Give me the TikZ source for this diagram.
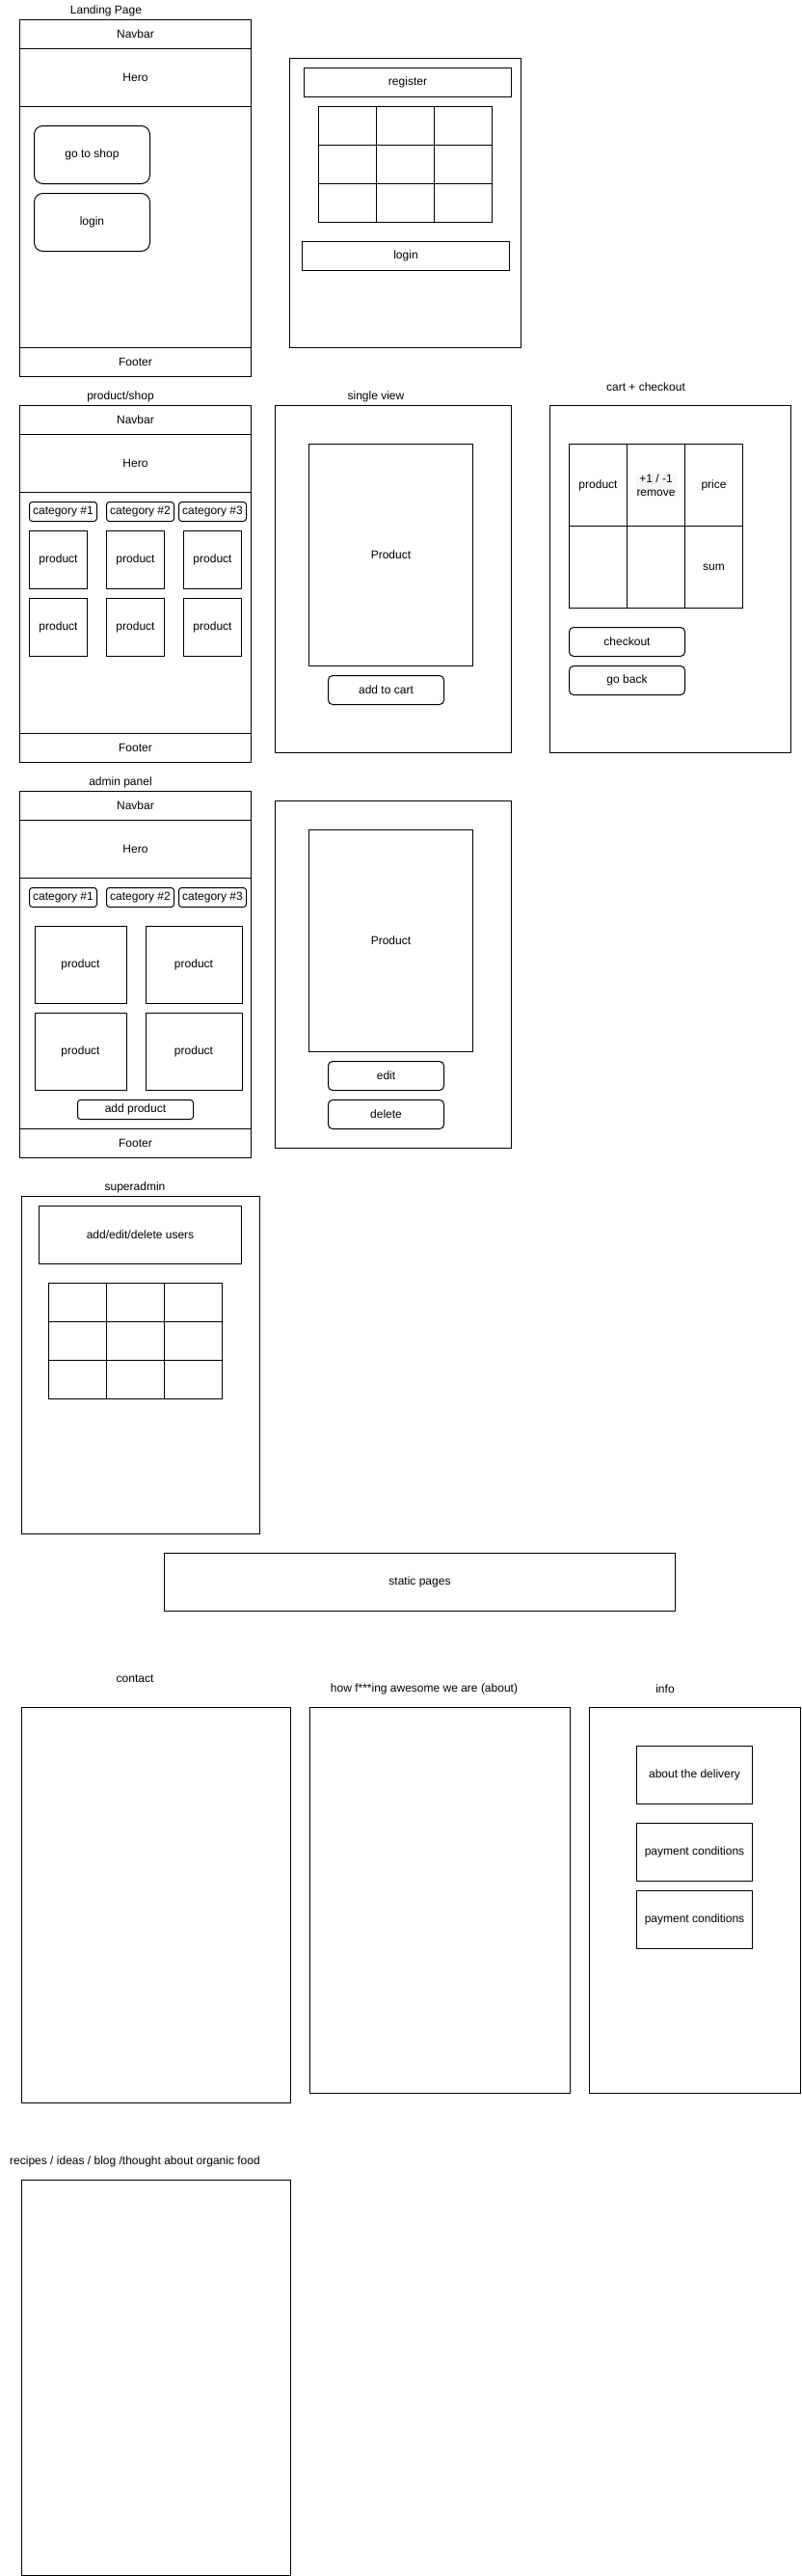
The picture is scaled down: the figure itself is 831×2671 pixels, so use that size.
\documentclass[tikz,border=0pt]{standalone}
\usepackage{fontspec}
\setmainfont{Liberation Sans}
\usepackage{tikz}

\tikzset{
  frame/.style={draw, line width=1pt, anchor=north west, inner sep=0pt,
    font=\fontsize{12pt}{14pt}\selectfont, align=center},
  btn/.style={frame, rounded corners=#1},
  wh/.style 2 args={minimum width=#1pt, minimum height=#2pt},
  caption/.style={inner sep=0pt, font=\fontsize{12pt}{14pt}\selectfont},
  grid line/.style={draw, line width=1pt}
}

\begin{document}
\begin{tikzpicture}[x=1pt, y=-1pt]
    \useasboundingbox (0,0) rectangle (831,2671);
    % Landing page
    \node[caption] (landtitle) at (110,11) {Landing Page};
    \node[frame, wh={240}{370}] (land) at (20,20) {};
    \node[frame, wh={240}{30}] (landnav) at (20,20) {Navbar};
    \node[frame, wh={240}{60}] (landhero) at (20,50) {Hero};
    \node[btn=9pt, wh={120}{60}] (shopbtn) at (35,130) {go to shop};
    \node[btn=9pt, wh={120}{60}] (loginbtn) at (35,200) {login};
    \node[frame, wh={240}{30}] (landfoot) at (20,360) {Footer};
    % Register / login
    \node[frame, wh={240}{300}] (auth) at (300,60) {};
    \node[frame, wh={215}{30}] (register) at (315,70) {register};
    \draw[grid line] (330,110) rectangle (510,230);
    \draw[grid line] (390,110) -- (390,230);
    \draw[grid line] (450,110) -- (450,230);
    \draw[grid line] (330,150) -- (510,150);
    \draw[grid line] (330,190) -- (510,190);
    \node[frame, wh={215}{30}] (login) at (313,250) {login};
    % Product / shop
    \node[caption] (shoptitle) at (125,411) {product/shop};
    \node[frame, wh={240}{370}] (shop) at (20,420) {};
    \node[frame, wh={240}{30}] (shopnav) at (20,420) {Navbar};
    \node[frame, wh={240}{60}] (shophero) at (20,450) {Hero};
    \node[btn=3pt, wh={70}{20}] (shopcat1) at (30,520) {category \#1};
    \node[btn=3pt, wh={70}{20}] (shopcat2) at (110,520) {category \#2};
    \node[btn=3pt, wh={70}{20}] (shopcat3) at (185,520) {category \#3};
    \node[frame, wh={60}{60}] (shopprod1) at (30,550) {product};
    \node[frame, wh={60}{60}] (shopprod2) at (110,550) {product};
    \node[frame, wh={60}{60}] (shopprod3) at (190,550) {product};
    \node[frame, wh={60}{60}] (shopprod4) at (30,620) {product};
    \node[frame, wh={60}{60}] (shopprod5) at (110,620) {product};
    \node[frame, wh={60}{60}] (shopprod6) at (190,620) {product};
    \node[frame, wh={240}{30}] (shopfoot) at (20,760) {Footer};
    % Single view
    \node[caption] (singletitle) at (390,411) {single view};
    \node[frame, wh={245}{360}] (single) at (285,420) {};
    \node[frame, wh={170}{230}] (singleprod) at (320,460) {Product};
    \node[btn=4.5pt, wh={120}{30}] (addcart) at (340,700) {add to cart};
    % Cart + checkout
    \node[caption] (carttitle) at (670,401) {cart + checkout};
    \node[frame, wh={250}{360}] (cart) at (570,420) {};
    \node[frame, wh={60}{85}] (cartprod) at (590,460) {product};
    \node[frame, wh={60}{85}] (cartqty) at (650,460) {};
    \node[caption, fill=black!3, align=center, inner sep=1pt] (cartqtytext) at (cartqty.center) {+1 / -1\\remove};
    \node[frame, wh={60}{85}] (cartprice) at (710,460) {price};
    \node[frame, wh={60}{85}] (cartempty1) at (590,545) {};
    \node[frame, wh={60}{85}] (cartempty2) at (650,545) {};
    \node[frame, wh={60}{85}] (cartsum) at (710,545) {sum};
    \node[btn=4.5pt, wh={120}{30}] (checkout) at (590,650) {checkout};
    \node[btn=4.5pt, wh={120}{30}] (goback) at (590,690) {go back};
    % Admin panel
    \node[caption] (admintitle) at (125,811) {admin panel};
    \node[frame, wh={240}{380}] (admin) at (20,820) {};
    \node[frame, wh={240}{30}] (adminnav) at (20,820) {Navbar};
    \node[frame, wh={240}{60}] (adminhero) at (20,850) {Hero};
    \node[btn=3pt, wh={70}{20}] (admincat1) at (30,920) {category \#1};
    \node[btn=3pt, wh={70}{20}] (admincat2) at (110,920) {category \#2};
    \node[btn=3pt, wh={70}{20}] (admincat3) at (185,920) {category \#3};
    \node[frame, wh={95}{80}] (adminprod1) at (35.5,960) {product};
    \node[frame, wh={100}{80}] (adminprod2) at (150.5,960) {product};
    \node[frame, wh={95}{80}] (adminprod3) at (35.5,1050) {product};
    \node[frame, wh={100}{80}] (adminprod4) at (150.5,1050) {product};
    \node[btn=3pt, wh={120}{20}] (addprod) at (80,1140) {add product};
    \node[frame, wh={240}{30}] (adminfoot) at (20,1170) {Footer};
    % Edit product
    \node[frame, wh={245}{360}] (edit) at (285,830) {};
    \node[frame, wh={170}{230}] (editprod) at (320,860) {Product};
    \node[btn=4.5pt, wh={120}{30}] (editbtn) at (340,1100) {edit};
    \node[btn=4.5pt, wh={120}{30}] (deletebtn) at (340,1140) {delete};
    % Superadmin
    \node[caption] (supertitle) at (140,1231) {superadmin};
    \node[frame, wh={247.5}{350}] (super) at (21.7,1240) {};
    \node[frame, wh={210}{60}] (users) at (40,1250) {add/edit/delete users};
    \draw[grid line] (50,1330) rectangle (230,1450);
    \draw[grid line] (110,1330) -- (110,1450);
    \draw[grid line] (170,1330) -- (170,1450);
    \draw[grid line] (50,1370) -- (230,1370);
    \draw[grid line] (50,1410) -- (230,1410);
    % Static pages
    \node[frame, wh={530}{60}] (static) at (170,1610) {static pages};
    \node[caption] (contacttitle) at (140,1741) {contact};
    \node[frame, wh={278.8}{410}] (contact) at (21.7,1770) {};
    \node[caption] (abouttitle) at (440,1751) {how f***ing awesome we are (about)};
    \node[frame, wh={270}{400}] (about) at (320.5,1770) {};
    \node[caption] (infotitle) at (690,1751) {info};
    \node[frame, wh={219.5}{400}] (info) at (610.5,1770) {};
    \node[frame, wh={120}{60}] (delivery) at (660,1810) {about the delivery};
    \node[frame, wh={120}{60}] (payment1) at (660,1890) {payment conditions};
    \node[frame, wh={120}{60}] (payment2) at (660,1960) {payment conditions};
    % Recipes / blog
    \node[caption] (blogtitle) at (140,2241) {recipes / ideas / blog /thought about organic food};
    \node[frame, wh={278.8}{410}] (blog) at (21.7,2260) {};
\end{tikzpicture}
\end{document}
